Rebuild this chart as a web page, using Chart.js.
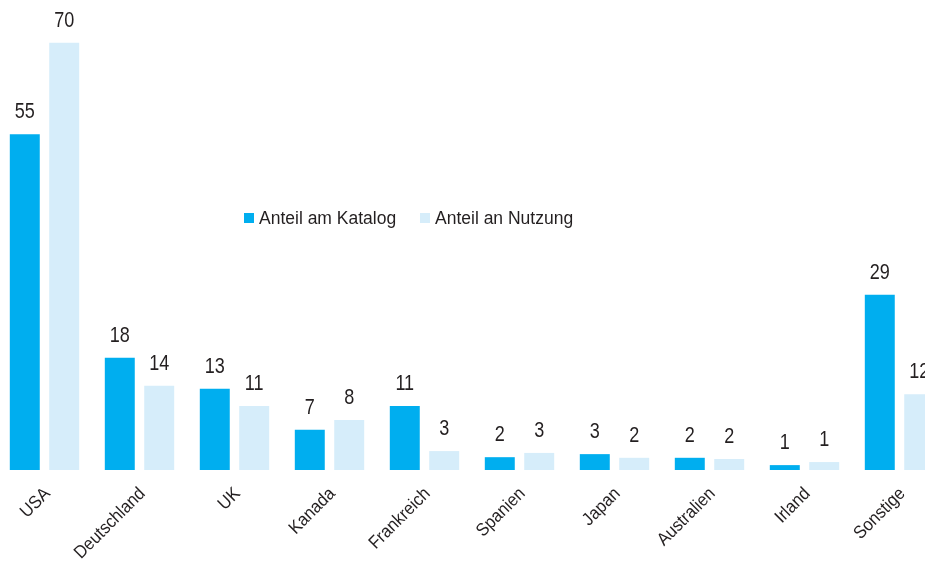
<!DOCTYPE html>
<html>
<head>
<meta charset="utf-8">
<script src="https://cdn.jsdelivr.net/npm/chart.js@4.4.1/dist/chart.umd.min.js"></script>
<style>
    html, body { margin: 0; padding: 0; background: #fff; overflow: hidden; width: 925px; height: 565px; }
    #wrap { position: absolute; left: -3px; top: 0; width: 950px; height: 565px; }
</style>
</head>
<body>
<div id="wrap"><canvas id="chart"></canvas></div>
<script>
// Länder und Anteile (%)
const categories = ['USA', 'Deutschland', 'UK', 'Kanada', 'Frankreich', 'Spanien', 'Japan', 'Australien', 'Irland', 'Sonstige'];
const katalog = [55, 18.4, 13.3, 6.6, 10.5, 2.1, 2.6, 2.0, 0.8, 28.7];
const nutzung = [70, 13.8, 10.5, 8.2, 3.1, 2.8, 2.0, 1.8, 1.3, 12.4];
const seriesNames = ['Anteil am Katalog', 'Anteil an Nutzung'];

const FONT = '"Liberation Sans", Arial, sans-serif';
const TEXT = '#231f20';
const colors = ['#00aeef', '#d6edfa'];

const labelsPlugin = {
    id: 'customText',
    afterDatasetsDraw(chart) {
        const c = chart.ctx;
        c.save();
        c.fillStyle = TEXT;

        // Werte über den Balken (schmale Schrift nachgebildet)
        c.font = '22px ' + FONT;
        c.textAlign = 'center';
        c.textBaseline = 'alphabetic';
        chart.data.datasets.forEach((ds, di) => {
            chart.getDatasetMeta(di).data.forEach((bar, i) => {
                c.save();
                c.translate(bar.x, bar.y - 16);
                c.scale(0.82, 1);
                c.fillText(String(Math.round(ds.data[i])), 0, 0);
                c.restore();
            });
        });

        // Kategorien, 45° gedreht
        const xs = chart.scales.x;
        c.font = '18px ' + FONT;
        c.textAlign = 'right';
        c.textBaseline = 'middle';
        categories.forEach((cat, i) => {
            const x = xs.getPixelForValue(i);
            c.save();
            c.translate(x + 3, 491);
            c.rotate(-Math.PI / 4);
            c.scale(0.92, 1);
            c.fillText(cat, 0, 0);
            c.restore();
        });

        // Legende in der Mitte
        c.font = '17.5px ' + FONT;
        c.textAlign = 'left';
        c.textBaseline = 'alphabetic';
        const legendX = [247, 423];
        seriesNames.forEach((name, i) => {
            c.fillStyle = colors[i];
            c.fillRect(legendX[i], 213, 10, 10);
            c.fillStyle = TEXT;
            c.fillText(name, legendX[i] + 15, 224);
        });
        c.restore();
    }
};

new Chart(document.getElementById('chart'), {
    type: 'bar',
    data: {
        labels: categories,
        datasets: [
            { label: seriesNames[0], data: katalog, backgroundColor: colors[0] },
            { label: seriesNames[1], data: nutzung, backgroundColor: colors[1] }
        ]
    },
    options: {
        responsive: true,
        maintainAspectRatio: false,
        animation: false,
        layout: { padding: { top: 0, bottom: 95, left: 0, right: 0 } },
        datasets: { bar: { categoryPercentage: 0.83, barPercentage: 0.76 } },
        scales: {
            x: { display: false, grid: { display: false } },
            y: { display: false, min: 0, max: 77 }
        },
        plugins: { legend: { display: false }, tooltip: { enabled: false } }
    },
    plugins: [labelsPlugin]
});
</script>
</body>
</html>
